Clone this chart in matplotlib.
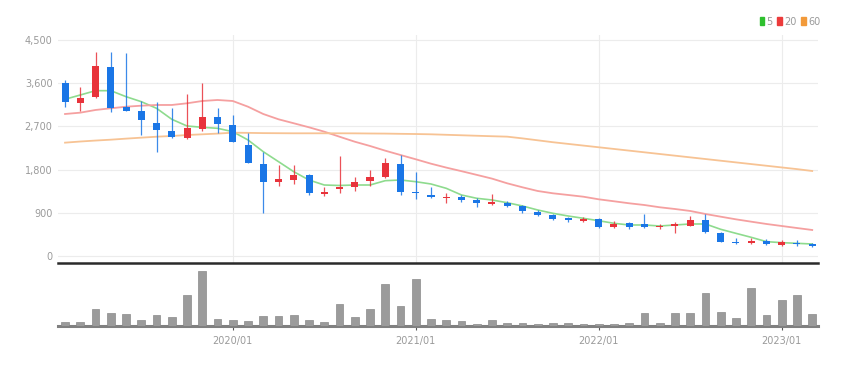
import matplotlib.pyplot as plt
import pandas as pd
from matplotlib.patches import Patch

# ---------------- data (monthly candles, 2019/02 - 2023/03) ----------------
months = [p.strftime("%Y/%m") for p in pd.period_range("2019-02", "2023-03", freq="M")]

open_ = [3598, 3181, 3306, 3943, 3110, 3027, 2764, 2610, 2452, 2639,
         2902, 2729, 2312, 1917, 1548, 1583, 1687, 1292, 1390, 1444,
         1562, 1652, 1910, 1340, 1271, 1202, 1236, 1166, 1083, 1110,
         1042, 923, 854, 785, 735, 764, 611, 681, 667, 598,
         625, 632, 750, 486, 299, 264, 312, 229, 278, 243]
high = [3667, 3527, 4243, 4256, 4235, 3235, 3214, 3089, 3375, 3610,
        3077, 2937, 2569, 2173, 1896, 1896, 1710, 1444, 2083, 1652,
        1791, 2035, 2104, 1756, 1431, 1306, 1271, 1202, 1292, 1146,
        1060, 950, 870, 820, 819, 790, 735, 715, 875, 667,
        715, 840, 875, 500, 368, 382, 347, 333, 333, 270]
low = [3110, 3027, 3290, 3006, 3020, 2520, 2173, 2460, 2440, 2610,
       2569, 2370, 1930, 889, 1458, 1500, 1271, 1256, 1306, 1360,
       1458, 1618, 1271, 1181, 1215, 1110, 1131, 1014, 1060, 1020,
       889, 830, 760, 715, 702, 583, 576, 556, 590, 556,
       472, 620, 470, 290, 250, 250, 230, 208, 215, 190]
close = [3214, 3285, 3958, 3077, 3027, 2833, 2625, 2473, 2660, 2889,
         2743, 2381, 1944, 1548, 1598, 1687, 1306, 1340, 1444, 1548,
         1652, 1931, 1327, 1306, 1223, 1236, 1166, 1097, 1131, 1042,
         944, 854, 777, 750, 771, 611, 660, 611, 611, 625,
         660, 750, 493, 299, 264, 312, 250, 285, 250, 215]

ma5 = [3265, 3354, 3444, 3444, 3319, 3215, 3077, 2848, 2708, 2681,
       2660, 2590, 2417, 2173, 1965, 1756, 1583, 1479, 1469, 1479,
       1479, 1569, 1583, 1548, 1500, 1410, 1271, 1202, 1167, 1110,
       1042, 958, 889, 833, 785, 735, 681, 646, 646, 625,
       646, 667, 667, 556, 472, 389, 299, 278, 264, 250]
ma20 = [2958, 2986, 3042, 3077, 3110, 3131, 3146, 3146, 3181, 3229,
        3250, 3229, 3110, 2958, 2848, 2765, 2681, 2590, 2485, 2381,
        2292, 2194, 2104, 2015, 1923, 1842, 1767, 1690, 1612, 1514,
        1431, 1354, 1306, 1271, 1235, 1181, 1140, 1098, 1062, 1015,
        979, 938, 875, 819, 764, 715, 667, 625, 583, 542]
ma60 = [2361, 2385, 2405, 2423, 2445, 2465, 2485, 2500, 2520, 2535,
        2550, 2569, 2565, 2560, 2558, 2556, 2556, 2556, 2556, 2555,
        2552, 2550, 2545, 2541, 2535, 2525, 2515, 2505, 2495, 2486,
        2450, 2410, 2370, 2335, 2300, 2265, 2230, 2195, 2160, 2125,
        2090, 2055, 2020, 1985, 1950, 1915, 1880, 1845, 1810, 1771]

volume = [40, 40, 164, 130, 124, 64, 114, 90, 307, 547,
          74, 64, 47, 97, 97, 114, 57, 40, 214, 90,
          164, 414, 197, 464, 74, 57, 47, 24, 57, 30,
          30, 24, 30, 30, 24, 24, 24, 30, 130, 30,
          130, 130, 324, 140, 80, 380, 110, 260, 307, 124]

yticks = [0, 900, 1800, 2700, 3600, 4500]
year_ticks = ["2020/01", "2021/01", "2022/01", "2023/01"]

UP = "#e8333b"
DOWN = "#1a76e6"
GRID = "#ececec"
TXT = "#9a9a9a"
FONT = ["Liberation Sans Narrow", "DejaVu Sans"]

plt.rcParams["font.family"] = FONT

fig = plt.figure(figsize=(8.57, 3.66), dpi=100)
ax = fig.add_axes([0.0677, 0.2814, 0.8868, 0.623])
axv = fig.add_axes([0.0677, 0.1093, 0.8868, 0.156])

x = list(range(len(months)))
tick_pos = [months.index(t) for t in year_ticks]

# ---------------- candles ----------------
for i in x:
    c = UP if close[i] >= open_[i] else DOWN
    lo_b = min(open_[i], close[i])
    h = max(abs(close[i] - open_[i]), 25)
    ax.vlines(i, low[i], high[i], color=c, lw=0.9, alpha=0.85, zorder=3)
    ax.bar(i, h, bottom=lo_b, width=0.46, color=c, zorder=4)

ax.plot(x, ma5, color="#8edb8e", lw=1.2, zorder=2)
ax.plot(x, ma20, color="#f5a0a0", lw=1.3, zorder=2)
ax.plot(x, ma60, color="#f7c394", lw=1.3, zorder=2)

ax.set_xlim(-0.46, 49.38)
ax.set_ylim(-146, 4604)
ax.set_yticks(yticks)
ax.set_yticklabels([f"{v:,}" for v in yticks])
ax.set_xticks(tick_pos)
ax.tick_params(axis="x", length=0, labelbottom=False)
ax.tick_params(axis="y", length=0, pad=4, labelsize=7, labelcolor=TXT)
ax.grid(True, color=GRID, lw=0.8, zorder=0)
for s in ["top", "right", "left"]:
    ax.spines[s].set_visible(False)
ax.spines["bottom"].set_color("#2a2a2a")
ax.spines["bottom"].set_linewidth(1.8)

# ---------------- volume ----------------
axv.bar(x, volume, width=0.5, color="#9b9b9b", edgecolor="#8a8a8a", lw=0.5, zorder=3)
axv.set_xlim(-0.46, 49.38)
axv.set_ylim(0, 567)
axv.set_yticks([])
axv.set_xticks(tick_pos)
axv.set_xticklabels(year_ticks)
axv.tick_params(axis="x", length=3, width=0.8, color="#555555", pad=4,
                labelsize=7, labelcolor=TXT)
for s in ["top", "right", "left"]:
    axv.spines[s].set_visible(False)
axv.spines["bottom"].set_color("#808080")
axv.spines["bottom"].set_linewidth(2.2)

# ---------------- legend ----------------
handles = [Patch(color="#2ec02e"), Patch(color="#ec3b3b"), Patch(color="#f29a3a")]
fig.legend(handles, ["5", "20", "60"], loc="upper right", bbox_to_anchor=(0.962, 0.965),
           ncol=3, frameon=False, handlelength=0.5, handleheight=0.9, handletextpad=0.2,
           columnspacing=0.5, fontsize=7, labelcolor=TXT, borderaxespad=0)

plt.savefig("out.png", dpi=100)
plt.close()
